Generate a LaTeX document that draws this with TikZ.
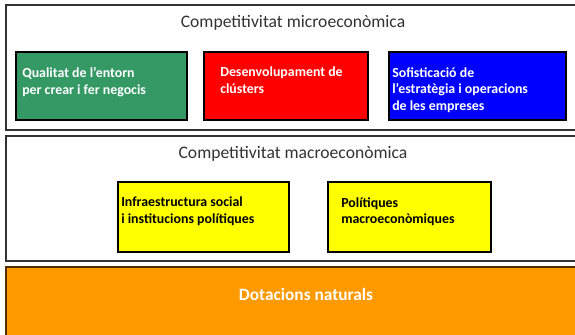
\documentclass[tikz,border=0pt]{standalone}
\usepackage{fontspec}
\setmainfont{Carlito}
\usetikzlibrary{calc}
\definecolor{entornverd}{HTML}{359966}
\definecolor{clustervermell}{HTML}{FF0000}
\definecolor{empresablau}{HTML}{0000FF}
\definecolor{politicagroc}{HTML}{FFFF00}
\definecolor{dotacionstaronja}{HTML}{FF9900}
\tikzset{
  nivell/.style={draw=black!80,line width=1.3pt,fill=white},
  capsa/.style={draw=black,line width=1pt},
  titol/.style={text=black!80,font=\fontsize{13.2}{15}\selectfont},
  textcapsa/.style={anchor=north west,inner sep=0pt,align=left,
    font=\fontsize{10.4}{12.6}\selectfont\bfseries}
}
\begin{document}
\begin{tikzpicture}[x=0.75pt,y=-0.75pt]
					\useasboundingbox (0,0) rectangle (575,335);
					\clip (0,0) rectangle (575,335);
					% nivells
					\draw[nivell] (6,5) rectangle (590,130);
					\draw[nivell] (6,136) rectangle (590,261);
					\draw[nivell,fill=dotacionstaronja,draw=black!70!dotacionstaronja] (6,267) rectangle (590,345);
					\node[titol] (micro) at (293,23) {Competitivitat microeconòmica};
					\node[titol] (macro) at (293,154) {Competitivitat macroeconòmica};
					\node[text=white,font=\fontsize{13}{15}\selectfont\bfseries] (dotacions) at (306,294) {Dotacions naturals};
					% competitivitat microeconomica
					\draw[capsa,fill=entornverd] (16,52) rectangle (187,120);
					\draw[capsa,fill=clustervermell] (204,52) rectangle (368,120);
					\draw[capsa,fill=empresablau] (389,52) rectangle (566,120);
					\node[textcapsa,text=white] (entorn) at (22,67) {Qualitat de l’entorn\\per crear i fer negocis};
					\node[textcapsa,text=white] (clusters) at (220,67) {Desenvolupament de\\clústers};
					\node[textcapsa,text=white] (empreses) at (392,67) {Sofisticació de\\l’estratègia i operacions\\de les empreses};
					% competitivitat macroeconomica
					\draw[capsa,fill=politicagroc] (118,182) rectangle (289,252);
					\draw[capsa,fill=politicagroc] (328,182) rectangle (491,252);
					\node[textcapsa] (infraestructura) at (121,197) {Infraestructura social\\i institucions polítiques};
					\node[textcapsa] (politiques) at (341,197) {Polítiques\\macroeconòmiques};
				\end{tikzpicture}
\end{document}
